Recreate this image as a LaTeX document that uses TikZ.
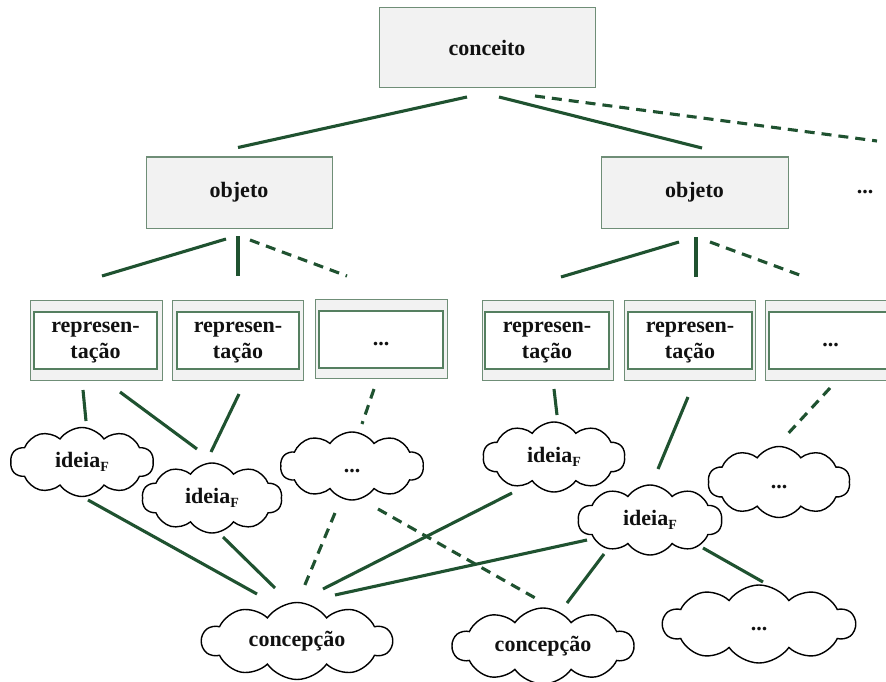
\documentclass[tikz,border=0pt]{standalone}
\usepackage{fontspec}
\setmainfont{Liberation Serif}
\usetikzlibrary{calc,shapes.symbols}
\definecolor{linkgreen}{HTML}{1F5230}
\definecolor{boxfill}{HTML}{F2F2F2}
\definecolor{boxedge}{HTML}{6F8E77}
\definecolor{inneredge}{HTML}{557F60}
\definecolor{txt}{HTML}{111111}
\newcommand{\idF}{ideia\raisebox{-0.45ex}{\fontsize{14}{14}\selectfont F}}
\newcommand{\lowdots}{\raisebox{-5pt}[\height][\depth]{...}}
\newcommand{\rep}{\begin{tabular}{@{}c@{}}represen-\\tação\end{tabular}}
\tikzset{
  lbl/.style={font=\fontsize{22}{26}\selectfont\bfseries, text=txt, align=center},
  graybox/.style={rectangle, draw=boxedge, line width=1pt, fill=boxfill, inner sep=0pt, outer sep=0pt},
  outerbox/.style={graybox},
  innerbox/.style={rectangle, draw=inneredge, line width=1.1pt, fill=white, inner sep=0pt, outer sep=0pt, lbl},
  thought/.style={cloud, cloud puffs=10, cloud puff arc=110, aspect=2.2, draw=black, line width=1.4pt, fill=white, inner sep=0pt, outer sep=0pt, lbl},
  link/.style={draw=linkgreen, line width=3.1pt},
  dlink/.style={link, dash pattern=on 10pt off 7pt}
}
\newcommand{\cl}[1]{\makebox[0pt]{#1}}
\begin{document}
\begin{tikzpicture}[x=1pt,y=-1pt]
\useasboundingbox (0,0) rectangle (886,682);
% top level
\node[graybox, lbl, minimum width=216pt, minimum height=80pt] (con) at (487,48) {conceito};
\node[graybox, lbl, minimum width=186pt, minimum height=71pt] (objL) at (239,192.5) {objeto};
\node[graybox, lbl, minimum width=187pt, minimum height=71pt] (objR) at (694.5,192.5) {objeto};
\node[lbl, inner sep=0pt] (dotsR) at (865,192) {...};
% representation boxes
\node[outerbox, minimum width=132pt, minimum height=80pt] (r1o) at (96,340) {};
\node[innerbox, minimum width=123pt, minimum height=57pt] (r1) at (95.5,340.5) {\rep};
\node[outerbox, minimum width=131pt, minimum height=80pt] (r2o) at (237.5,340) {};
\node[innerbox, minimum width=122pt, minimum height=57pt] (r2) at (238,340.5) {\rep};
\node[outerbox, minimum width=132pt, minimum height=79pt] (r3o) at (381,339) {};
\node[innerbox, minimum width=124pt, minimum height=57pt] (r3) at (381,339.5) {\lowdots};
\node[outerbox, minimum width=131pt, minimum height=80pt] (r4o) at (547.5,340) {};
\node[innerbox, minimum width=124pt, minimum height=57pt] (r4) at (547,340.5) {\rep};
\node[outerbox, minimum width=131pt, minimum height=80pt] (r5o) at (689.5,340) {};
\node[innerbox, minimum width=124pt, minimum height=57pt] (r5) at (690,340.5) {\rep};
\node[outerbox, minimum width=131pt, minimum height=80pt] (r6o) at (830.5,340) {};
\node[innerbox, minimum width=123pt, minimum height=57pt] (r6) at (830.5,340.5) {\lowdots};
% clouds
\node[thought, minimum width=143pt, minimum height=69pt] (c1) at (82,462) {\cl{\idF}};
\node[thought, minimum width=140pt, minimum height=70pt] (c2) at (212,498) {\cl{\idF}};
\node[thought, minimum width=143pt, minimum height=68pt] (c3) at (352,466) {\cl{\lowdots}};
\node[thought, minimum width=142pt, minimum height=70pt] (c4) at (554,457) {\cl{\idF}};
\node[thought, minimum width=142pt, minimum height=71pt] (c5) at (779,482) {\cl{\lowdots}};
\node[thought, minimum width=144pt, minimum height=70pt] (c6) at (650,520) {\cl{\idF}};
\node[thought, minimum width=192pt, minimum height=78pt] (c7) at (759,624) {\cl{\lowdots}};
\node[thought, minimum width=190pt, minimum height=77pt] (k1) at (297,641) {\cl{concepção}};
\node[thought, minimum width=181pt, minimum height=76pt] (k2) at (543,646) {\cl{concepção}};
% connectors level 1
\draw[link] ($(con)+(-20,49)$) -- ($(objL)+(-1,-45)$);
\draw[link] ($(con)+(12,49)$) -- ($(objR)+(7.5,-44.5)$);
\draw[dlink] ($(con)+(48,48)$) -- ($(dotsR)+(12,-51)$);
% level 2
\draw[link] ($(objL)+(-13,46.5)$) -- ($(r1o)+(6,-64)$);
\draw[link] ($(objL)+(-1,43.5)$) -- ($(r2o)+(0.5,-64)$);
\draw[dlink] ($(objL)+(11,47.5)$) -- ($(r3o)+(-34,-63)$);
\draw[link] ($(objR)+(-15.5,49.5)$) -- ($(r4o)+(13.5,-63)$);
\draw[link] ($(objR)+(1.5,44.5)$) -- ($(r5o)+(6.5,-63)$);
\draw[dlink] ($(objR)+(15.5,49.5)$) -- ($(r6o)+(-25.5,-63)$);
% level 3
\draw[link] ($(r1o)+(-13,50)$) -- ($(c1)+(4,-41)$);
\draw[link] ($(r1o)+(24,52)$) -- ($(c2)+(-15,-49)$);
\draw[link] ($(r2o)+(1.5,54)$) -- ($(c2)+(-1,-46)$);
\draw[dlink] ($(r3o)+(-7,50)$) -- ($(c3)+(10,-42)$);
\draw[link] ($(r4o)+(6.5,49)$) -- ($(c4)+(3,-42)$);
\draw[link] ($(r5o)+(-1.5,57)$) -- ($(c6)+(8,-51)$);
\draw[dlink] ($(r6o)+(-0.5,48)$) -- ($(c5)+(5,-44)$);
% level 4
\draw[link] ($(c1)+(6,38)$) -- ($(k1)+(-40,-47)$);
\draw[link] ($(c2)+(11,39)$) -- ($(k1)+(-22,-53)$);
\draw[dlink] ($(c3)+(-17,47)$) -- ($(k1)+(7,-54)$);
\draw[dlink] ($(c3)+(26,43)$) -- ($(k2)+(-6,-47)$);
\draw[link] ($(c4)+(-42,36)$) -- ($(k1)+(26,-52)$);
\draw[link] ($(c6)+(-63,20)$) -- ($(k1)+(38,-46)$);
\draw[link] ($(c6)+(-46,34)$) -- ($(k2)+(24,-43)$);
\draw[link] ($(c6)+(53,28)$) -- ($(c7)+(4,-42)$);
\end{tikzpicture}
\end{document}
